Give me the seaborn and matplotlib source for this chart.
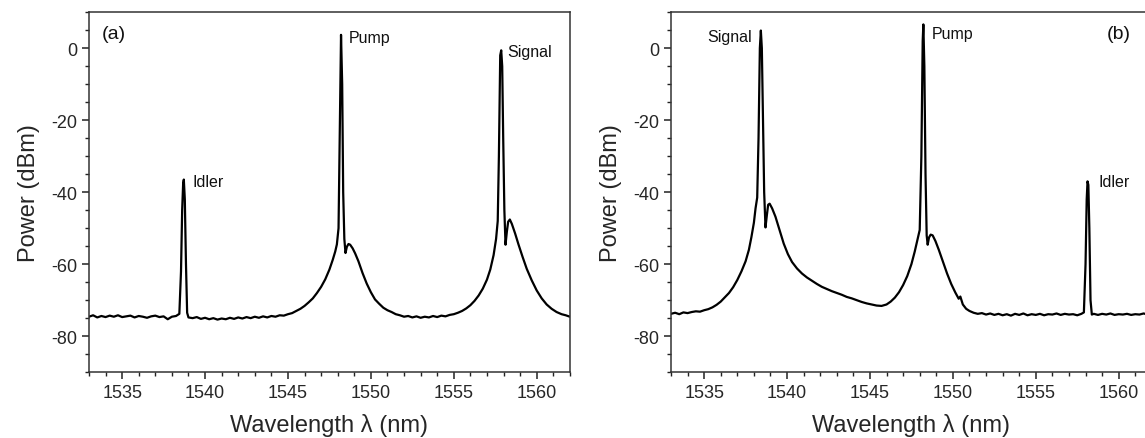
import numpy as np
import pandas as pd
import matplotlib
matplotlib.use("Agg")
import matplotlib.pyplot as plt
import seaborn as sns
from matplotlib.ticker import MultipleLocator

# spectrum (a): wavelength (nm) and power (dBm)
wl_a = [1533.0, 1533.25, 1533.5, 1533.75, 1534.0, 1534.25, 1534.5, 1534.75, 1535.0, 1535.25,
        1535.5, 1535.75, 1536.0, 1536.25, 1536.5, 1536.75, 1537.0, 1537.25, 1537.5, 1537.75,
        1538.0, 1538.25, 1538.45, 1538.55, 1538.62, 1538.68, 1538.72, 1538.78, 1538.85, 1538.92,
        1539.0, 1539.25, 1539.5, 1539.75, 1540.0, 1540.25, 1540.5, 1540.75, 1541.0, 1541.25,
        1541.5, 1541.75, 1542.0, 1542.25, 1542.5, 1542.75, 1543.0, 1543.25, 1543.5, 1543.75,
        1544.0, 1544.25, 1544.5, 1544.75, 1545.0, 1545.25, 1545.5, 1545.75, 1546.0, 1546.25,
        1546.5, 1546.75, 1547.0, 1547.25, 1547.5, 1547.7, 1547.85, 1547.95, 1548.05, 1548.12,
        1548.2, 1548.27, 1548.33, 1548.4, 1548.47, 1548.55, 1548.65, 1548.75, 1548.9, 1549.05,
        1549.25, 1549.5, 1549.75, 1550.0, 1550.25, 1550.5, 1550.75, 1551.0, 1551.25, 1551.5,
        1551.75, 1552.0, 1552.25, 1552.5, 1552.75, 1553.0, 1553.25, 1553.5, 1553.75, 1554.0,
        1554.25, 1554.5, 1554.75, 1555.0, 1555.25, 1555.5, 1555.75, 1556.0, 1556.25, 1556.5,
        1556.75, 1557.0, 1557.2, 1557.4, 1557.55, 1557.65, 1557.72, 1557.8, 1557.86, 1557.92,
        1557.98, 1558.05, 1558.12, 1558.2, 1558.28, 1558.38, 1558.5, 1558.7, 1558.9, 1559.15,
        1559.4, 1559.7, 1560.0, 1560.3, 1560.6, 1560.9, 1561.2, 1561.5, 1561.75, 1562.0]
pw_a = [-74.6, -74.2, -74.8, -74.4, -74.7, -74.3, -74.6, -74.2, -74.7, -74.5,
        -74.3, -74.8, -74.4, -74.6, -74.9, -74.5, -74.3, -74.7, -74.5, -75.3,
        -74.6, -74.4, -73.8, -62.0, -45.0, -37.5, -36.5, -42.0, -60.0, -73.5,
        -74.8, -75.0, -74.7, -75.2, -74.9, -75.3, -75.0, -75.4, -75.1, -75.3,
        -74.9, -75.2, -74.8, -75.1, -74.7, -75.0, -74.6, -74.9, -74.5, -74.8,
        -74.4, -74.6, -74.2, -74.3, -73.9, -73.6, -73.0, -72.4, -71.6, -70.6,
        -69.5, -68.0, -66.3, -64.2, -61.5, -58.8, -56.5, -54.5, -50.0, -25.0,
        3.7, -10.0, -40.0, -53.0, -56.9, -55.2, -54.4, -54.6, -55.6, -57.0,
        -59.2, -62.5, -65.4, -67.8, -69.8, -71.0, -72.1, -72.8, -73.3, -73.9,
        -74.2, -74.6, -74.4, -74.8, -74.5, -74.9, -74.6, -74.8, -74.4, -74.7,
        -74.3, -74.5, -74.1, -73.9, -73.5, -73.0, -72.3, -71.4, -70.2, -68.7,
        -66.8, -64.3, -61.5, -57.5, -53.0, -48.0, -30.0, -2.0, -0.6, -5.0,
        -25.0, -45.0, -54.6, -51.0, -48.2, -47.6, -48.8, -51.5, -54.5, -58.0,
        -61.3, -64.5, -67.3, -69.5, -71.2, -72.4, -73.3, -73.9, -74.2, -74.6]

# spectrum (b)
wl_b = [1533.0, 1533.25, 1533.5, 1533.75, 1534.0, 1534.25, 1534.5, 1534.75, 1535.0, 1535.25,
        1535.5, 1535.75, 1536.0, 1536.25, 1536.5, 1536.75, 1537.0, 1537.25, 1537.5, 1537.7,
        1537.85, 1538.0, 1538.1, 1538.2, 1538.28, 1538.36, 1538.42, 1538.48, 1538.55, 1538.62,
        1538.7, 1538.78, 1538.86, 1538.95, 1539.1, 1539.3, 1539.55, 1539.8, 1540.05, 1540.3,
        1540.6, 1540.9, 1541.2, 1541.5, 1541.8, 1542.1, 1542.4, 1542.7, 1543.0, 1543.3,
        1543.6, 1543.9, 1544.2, 1544.5, 1544.8, 1545.1, 1545.4, 1545.7, 1546.0, 1546.25,
        1546.5, 1546.75, 1547.0, 1547.25, 1547.5, 1547.7, 1547.85, 1548.0, 1548.1, 1548.18,
        1548.22, 1548.28, 1548.35, 1548.42, 1548.48, 1548.56, 1548.66, 1548.78, 1548.95, 1549.15,
        1549.4, 1549.65, 1549.9, 1550.15, 1550.35, 1550.45, 1550.6, 1550.8, 1551.0, 1551.25,
        1551.5, 1551.75, 1552.0, 1552.25, 1552.5, 1552.75, 1553.0, 1553.25, 1553.5, 1553.75,
        1554.0, 1554.25, 1554.5, 1554.75, 1555.0, 1555.25, 1555.5, 1555.75, 1556.0, 1556.25,
        1556.5, 1556.75, 1557.0, 1557.25, 1557.5, 1557.75, 1557.9, 1558.0, 1558.07, 1558.12,
        1558.17, 1558.23, 1558.3, 1558.38, 1558.5, 1558.75, 1559.0, 1559.25, 1559.5, 1559.75,
        1560.0, 1560.25, 1560.5, 1560.75, 1561.0, 1561.25, 1561.5, 1561.75, 1562.0]
pw_b = [-73.8, -73.5, -73.9, -73.4, -73.6, -73.3, -73.1, -73.2, -72.8, -72.5,
        -72.0, -71.3, -70.4, -69.2, -68.0, -66.4, -64.4, -62.0, -59.2, -56.0,
        -52.5, -48.5, -44.5, -41.5, -25.0, 0.0, 4.9, 0.0, -20.0, -40.0,
        -49.8, -46.5, -43.5, -43.2, -44.5, -46.8, -50.5, -54.3, -57.2, -59.4,
        -61.2, -62.6, -63.7, -64.6, -65.5, -66.3, -66.9, -67.5, -68.0, -68.5,
        -69.1, -69.5, -70.0, -70.5, -70.9, -71.2, -71.5, -71.6, -71.2, -70.4,
        -69.3, -67.8, -65.8, -63.3, -60.0, -56.5, -53.5, -50.5, -30.0, 2.0,
        6.6, -5.0, -35.0, -52.0, -54.6, -52.6, -51.8, -52.0, -53.6, -56.0,
        -59.3, -62.6, -65.5, -67.9, -69.6, -69.0, -71.2, -72.4, -73.0, -73.5,
        -73.8, -73.6, -74.0, -73.7, -74.1, -73.8, -74.2, -73.9, -74.3, -73.8,
        -74.1, -73.7, -74.2, -73.9, -74.1, -73.8, -74.2, -73.9, -74.0, -73.7,
        -74.1, -73.8, -74.0, -73.9, -74.2, -73.8, -73.4, -60.0, -42.0, -37.0,
        -38.0, -50.0, -70.0, -74.0, -73.8, -74.1, -73.8, -74.0, -73.7, -74.1,
        -73.9, -74.0, -73.8, -74.1, -73.9, -74.0, -73.7, -74.0, -73.9]

# peak labels: (text, x, y, ha)
labels_a = [("(a)", 1533.8, 4.0, "left"), ("Pump", 1548.65, 3.0, "left"),
            ("Signal", 1558.25, -1.0, "left"), ("Idler", 1539.25, -37.0, "left")]
labels_b = [("(b)", 1559.3, 4.0, "left"), ("Signal", 1537.9, 3.3, "right"),
            ("Pump", 1548.7, 4.0, "left"), ("Idler", 1558.8, -37.0, "left")]

sns.set_style("ticks")
plt.rcParams['font.family'] = ['Liberation Sans', 'DejaVu Sans']
plt.rcParams['axes.unicode_minus'] = False

fig = plt.figure(figsize=(11.45, 4.39), dpi=100)
ax_a = fig.add_axes([0.0777, 0.150, 0.420, 0.820])
ax_b = fig.add_axes([0.586, 0.150, 0.420, 0.820])

for ax, wl, pw, labels in [(ax_a, wl_a, pw_a, labels_a), (ax_b, wl_b, pw_b, labels_b)]:
    df = pd.DataFrame({"wl": wl, "pw": pw})
    sns.lineplot(data=df, x="wl", y="pw", ax=ax, color="black", lw=1.6, estimator=None)
    ax.set_xlim(1533, 1562)
    ax.set_ylim(-90, 10)
    ax.xaxis.set_major_locator(MultipleLocator(5))
    ax.xaxis.set_minor_locator(MultipleLocator(1))
    ax.yaxis.set_major_locator(MultipleLocator(20))
    ax.yaxis.set_minor_locator(MultipleLocator(5))
    ax.tick_params(which="major", direction="out", length=5, width=1.1, labelsize=13,
                   top=False, right=False, color="#222222")
    ax.tick_params(which="minor", direction="out", length=3, width=1.0,
                   top=False, right=False, color="#222222")
    for sp in ax.spines.values():
        sp.set_linewidth(1.1)
        sp.set_color("#333333")
    ax.set_xlabel("Wavelength λ (nm)", fontsize=17, labelpad=9)
    ax.set_ylabel("Power (dBm)", fontsize=17, labelpad=8)
    for txt, x, y, ha in labels:
        fs = 14 if txt.startswith("(") else 11.5
        ax.text(x, y, txt, ha=ha, va="center", fontsize=fs, color="#111111")

fig.savefig("out.png", dpi=100)
